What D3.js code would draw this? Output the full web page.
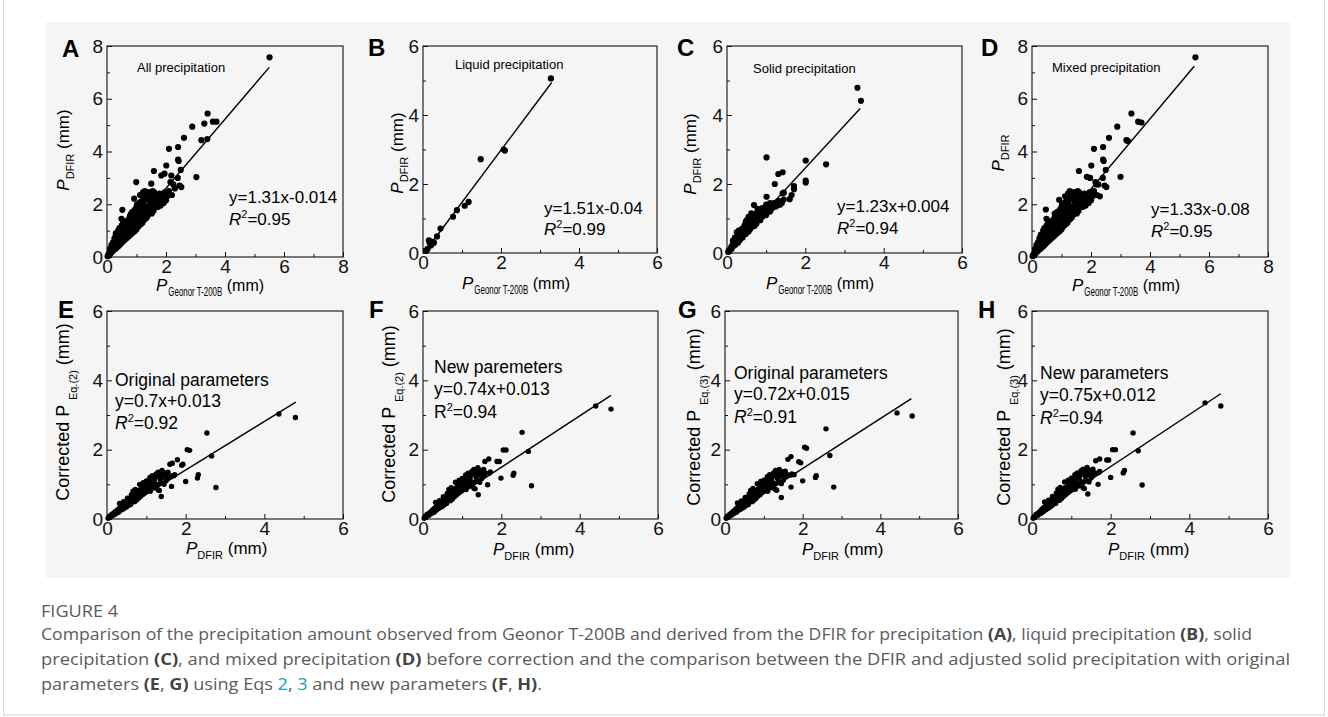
<!DOCTYPE html>
<html><head><meta charset="utf-8">
<script src="https://cdn.jsdelivr.net/npm/d3@7"></script>
<style>body{margin:0;background:#fff;} svg{display:block;} text{white-space:pre;}</style>
</head><body>
<svg id="c" width="1328" height="717"></svg>
<script>
// ---------------- DATA ----------------
const panelLetters = ["A","B","C","D","E","F","G","H"];
const panelNotes = ["All precipitation","Liquid precipitation","Solid precipitation","Mixed precipitation",
  "Original parameters","New paremeters","Original parameters","New parameters"];
const axisMax = [8,6,6,8,6,6,6,6];
const ticks8 = [0,2,4,6,8], minor8 = [1,3,5,7];
const ticks6 = [0,2,4,6], minor6 = [1,3,5];
const fitSlopes = [1.31,1.51,1.23,1.33,0.70,0.74,0.72,0.75];
const fitIntercepts = [-0.014,-0.04,0.004,-0.08,0.013,0.013,0.015,0.012];
const fitXStart = [0.01,0.08,0.0,0.06,0.0,0.0,0.0,0.0];
const fitXEnd = [5.5,3.3,3.4,5.5,4.8,4.8,4.8,4.8];
const eqLeft = ["y=1.31","y=1.51","y=1.23","y=1.33","y=0.7","y=0.74","y=0.72","y=0.75"];
const eqRight = ["-0.014","-0.04","+0.004","-0.08","+0.013","+0.013","+0.015","+0.012"];
const eqItalicX = [false,false,false,false,false,false,true,false];
const r2Values = ["0.95","0.99","0.94","0.95","0.92","0.94","0.91","0.94"];
const r2Italic = [true,true,true,true,true,false,true,true];

const ptsA = [
[0.02,0.03],[0.05,0.05],[0.05,0.1],[0.08,0.12],[0.1,0.1],[0.1,0.2],[0.12,0.15],[0.15,0.18],[0.15,0.3],[0.18,0.22],[0.2,0.25],[0.2,0.4],[0.22,0.3],[0.25,0.28],[0.25,0.5],[0.28,0.35],[0.3,0.32],[0.3,0.6],[0.3,0.9],[0.32,0.45],
[0.35,0.38],[0.35,0.7],[0.38,0.5],[0.4,0.43],[0.4,0.85],[0.42,0.6],[0.45,0.48],[0.45,1.0],[0.48,0.7],[0.5,0.55],[0.5,0.85],[0.5,1.2],[0.52,1.79],[0.49,1.45],[0.55,0.6],[0.55,1.05],[0.58,0.75],[0.6,0.65],[0.6,0.95],[0.6,1.35],
[0.65,0.7],[0.65,1.15],[0.68,0.85],[0.7,0.75],[0.7,1.3],[0.72,1.0],[0.75,0.8],[0.75,1.45],[0.78,1.15],[0.8,0.85],[0.8,1.6],[0.82,1.64],[0.85,0.9],[0.85,1.3],[0.88,1.05],[0.9,0.95],[0.9,1.5],[0.92,1.75],[0.92,2.21],
[0.95,1.0],[0.95,1.2],[0.99,2.84],[1.0,1.05],[1.0,1.4],[1.0,1.9],[1.05,1.65],[1.05,1.15],[1.1,1.2],[1.1,2.05],[1.1,1.5],[1.15,1.25],[1.15,1.8],[1.2,1.3],[1.2,2.3],[1.2,1.6],[1.25,2.0],[1.25,1.4],[1.3,2.45],[1.3,1.75],[1.3,1.45],
[1.35,1.5],[1.35,2.2],[1.4,2.45],[1.4,1.9],[1.4,1.6],[1.45,2.1],[1.45,1.7],[1.5,2.78],[1.5,2.4],[1.5,1.8],[1.55,2.0],[1.55,2.3],[1.6,2.45],[1.6,1.9],[1.65,2.15],[1.65,2.0],[1.7,2.35],[1.7,2.1],[1.59,3.26],
[1.75,2.0],[1.75,2.25],[1.8,2.15],[1.84,3.09],[1.85,2.3],[1.88,2.05],[1.9,2.2],[1.95,3.16],[1.95,2.45],[2.0,2.15],[2.01,3.47],[2.05,2.3],[2.1,4.1],[2.1,2.5],[2.15,2.84],[2.18,3.09],[2.2,2.35],[2.25,2.75],[2.3,2.6],
[2.41,4.17],[2.41,3.69],[2.43,3.64],[2.46,2.71],[2.52,2.65],[2.4,3.0],[2.5,3.3],[2.61,4.52],[2.89,4.94],[3.03,3.03],[3.2,4.43],[3.3,5.06],[3.4,4.47],[3.41,5.44],[3.59,5.13],[3.71,5.13],[5.51,7.57],
[0.1,0.3],[0.15,0.45],[0.2,0.55],[0.25,0.7],[0.28,0.75],[0.35,0.55],[0.38,1.0],[0.4,0.65],[0.42,1.1],[0.45,0.75],[0.55,0.8],[0.55,1.3],[0.62,0.85],[0.62,1.1],[0.68,1.2],[0.7,1.05],[0.72,1.4],[0.78,1.55],[0.82,1.3],[0.85,1.7],
[0.9,1.2],[0.95,1.5],[0.95,1.8],[1.0,1.6],[1.02,2.0],[1.05,1.35],[1.08,1.85],[1.12,1.7],[1.15,2.1],[1.18,1.45],[1.2,1.95],[1.22,2.45],[1.25,1.7],[1.28,2.2],[1.32,1.6],[1.35,1.9],[1.38,2.35],[1.42,1.75],[1.45,2.45],[1.48,2.0],
[1.52,1.65],[1.52,2.2],[1.58,1.75],[1.62,2.1],[1.68,2.25],[1.72,1.9],[1.78,2.4],[1.82,1.95],[1.92,2.05],[1.12,2.35],[1.28,2.5],[1.55,2.5]
];
const ptsB = [[0.09,0.08],[0.12,0.12],[0.15,0.37],[0.17,0.3],[0.2,0.22],[0.22,0.33],[0.24,0.27],[0.28,0.3],[0.36,0.48],[0.45,0.71],
[0.77,1.05],[0.87,1.24],[1.07,1.37],[1.17,1.48],[1.48,2.72],[2.07,3.0],[2.1,2.97],[3.28,5.06]];
const ptsC = [
[0.03,0.03],[0.05,0.08],[0.08,0.1],[0.1,0.15],[0.12,0.12],[0.15,0.2],[0.15,0.35],[0.18,0.22],[0.2,0.3],[0.2,0.45],[0.22,0.25],[0.25,0.35],[0.25,0.6],[0.28,0.3],[0.3,0.45],[0.3,0.65],[0.33,0.38],[0.35,0.55],[0.38,0.7],[0.4,0.45],
[0.42,0.6],[0.45,0.8],[0.48,0.55],[0.5,0.7],[0.5,0.95],[0.55,0.62],[0.55,0.85],[0.6,0.7],[0.6,1.0],[0.65,0.8],[0.65,1.1],[0.69,1.39],[0.7,0.78],[0.7,0.95],[0.75,1.15],[0.75,0.85],[0.8,1.0],[0.8,1.2],[0.85,0.95],[0.85,1.1],
[0.9,1.3],[0.9,1.05],[0.95,1.15],[1.0,1.1],[1.0,1.4],[1.01,1.63],[1.05,1.25],[1.1,1.45],[1.1,1.3],[1.15,1.4],[1.2,1.45],[1.25,1.35],[1.3,1.5],[1.35,1.4],[1.4,1.45],[1.42,1.73],[1.45,1.75],[1.6,1.56],[1.65,1.68],[1.71,1.85],
[1.71,1.94],[1.22,2.0],[1.31,2.29],[1.42,2.34],[1.01,2.77],[2.01,2.68],[2.01,2.04],[2.01,2.1],[2.53,2.57],[3.33,4.79],[3.42,4.41],
[0.12,0.2],[0.18,0.3],[0.25,0.45],[0.3,0.55],[0.35,0.45],[0.4,0.6],[0.45,0.65],[0.5,0.82],[0.55,0.75],[0.6,0.85],[0.65,0.95],[0.7,1.05],[0.75,1.0],[0.8,1.1],[0.85,1.2],[0.9,1.15],[0.95,1.3],[1.0,1.25],[1.05,1.4],[1.1,1.2],
[1.15,1.3],[1.2,1.35],[1.25,1.45],[1.3,1.4],[1.35,1.5],[1.45,1.55],[0.55,1.05],[0.48,0.9],[0.62,1.15],[0.78,1.28]
];
const ptsD = [
[0.02,0.03],[0.05,0.05],[0.05,0.1],[0.08,0.12],[0.1,0.1],[0.1,0.2],[0.12,0.15],[0.15,0.18],[0.15,0.3],[0.18,0.22],[0.2,0.25],[0.2,0.4],[0.22,0.3],[0.25,0.28],[0.25,0.5],[0.28,0.35],[0.3,0.32],[0.3,0.6],[0.3,0.85],[0.32,0.45],
[0.35,0.38],[0.35,0.7],[0.38,0.5],[0.4,0.43],[0.4,0.85],[0.42,0.6],[0.45,0.48],[0.45,1.0],[0.48,0.7],[0.5,0.55],[0.5,0.85],[0.5,1.2],[0.47,1.8],[0.49,1.45],[0.55,0.6],[0.55,1.05],[0.58,0.75],[0.6,0.65],[0.6,0.95],[0.6,1.35],
[0.65,0.7],[0.65,1.15],[0.68,0.85],[0.7,0.75],[0.7,1.3],[0.72,1.0],[0.75,0.8],[0.75,1.45],[0.77,1.65],[0.78,1.15],[0.8,0.85],[0.8,1.6],[0.85,0.9],[0.85,1.3],[0.88,1.05],[0.9,0.95],[0.9,1.5],[0.92,1.75],[0.92,2.17],
[0.95,1.0],[0.95,1.2],[1.0,1.05],[1.0,1.4],[1.0,1.9],[1.05,1.65],[1.05,1.15],[1.1,1.2],[1.1,2.05],[1.1,1.5],[1.15,1.25],[1.15,1.8],[1.2,1.3],[1.2,2.3],[1.2,1.6],[1.25,2.0],[1.25,1.4],[1.3,2.45],[1.3,1.75],[1.3,1.45],
[1.35,1.5],[1.35,2.2],[1.4,2.45],[1.4,1.9],[1.4,1.6],[1.45,2.1],[1.45,1.7],[1.5,2.4],[1.5,1.8],[1.55,2.0],[1.55,2.3],[1.6,2.45],[1.6,1.9],[1.65,2.15],[1.65,2.0],[1.7,2.35],[1.7,2.1],[1.59,3.26],
[1.75,2.0],[1.75,2.25],[1.8,2.15],[1.86,3.04],[1.85,2.3],[1.88,2.05],[1.9,2.2],[1.97,3.0],[1.95,2.45],[2.0,2.15],[2.01,3.47],[2.05,2.3],[2.1,4.1],[2.1,2.5],[2.15,2.84],[2.18,2.75],[2.2,2.35],[2.25,2.75],[2.3,2.3],
[2.41,4.17],[2.41,3.69],[2.43,3.64],[2.46,2.71],[2.52,2.65],[2.4,3.0],[2.5,3.3],[2.61,4.52],[2.89,4.94],[3.0,3.04],[3.2,4.43],[3.25,4.4],[3.37,5.44],[3.6,5.13],[3.71,5.1],[5.54,7.57],
[0.1,0.3],[0.15,0.45],[0.2,0.55],[0.25,0.7],[0.28,0.75],[0.35,0.55],[0.38,1.0],[0.4,0.65],[0.42,1.1],[0.45,0.75],[0.55,0.8],[0.55,1.3],[0.62,0.85],[0.62,1.1],[0.68,1.2],[0.7,1.05],[0.72,1.4],[0.78,1.5],[0.82,1.3],[0.85,1.7],
[0.9,1.2],[0.95,1.5],[0.95,1.8],[1.0,1.6],[1.02,2.0],[1.05,1.35],[1.08,1.85],[1.12,1.7],[1.15,2.1],[1.18,1.45],[1.2,1.95],[1.22,2.4],[1.25,1.7],[1.28,2.2],[1.32,1.6],[1.35,1.9],[1.38,2.35],[1.42,1.75],[1.45,2.45],[1.48,2.0],
[1.52,1.65],[1.52,2.2],[1.58,1.75],[1.62,2.1],[1.68,2.25],[1.72,1.9],[1.78,2.4],[1.82,1.95],[1.92,2.05],[1.12,2.3],[1.28,2.5],[1.55,2.5]
];
const ptsE = [
[0.03,0.02],[0.05,0.05],[0.08,0.06],[0.1,0.08],[0.1,0.12],[0.15,0.1],[0.15,0.15],[0.2,0.14],[0.2,0.2],[0.25,0.17],[0.25,0.25],[0.3,0.2],[0.3,0.3],[0.32,0.45],[0.35,0.25],[0.35,0.35],[0.4,0.28],[0.4,0.4],[0.42,0.5],[0.45,0.32],
[0.45,0.45],[0.5,0.35],[0.5,0.5],[0.52,0.6],[0.55,0.4],[0.55,0.55],[0.6,0.42],[0.6,0.6],[0.62,0.7],[0.65,0.5],[0.66,0.8],[0.7,0.5],[0.7,0.62],[0.72,0.85],[0.75,0.55],[0.75,0.7],[0.8,0.6],[0.8,0.75],[0.83,1.0],[0.85,0.65],
[0.88,0.85],[0.9,0.7],[0.92,1.05],[0.95,0.75],[0.95,0.9],[1.0,0.8],[1.0,1.1],[1.05,0.95],[1.09,1.2],[1.1,0.8],[1.12,1.0],[1.15,1.25],[1.2,0.9],[1.2,1.1],[1.25,1.3],[1.3,0.84],[1.3,1.0],[1.3,1.35],[1.33,0.82],[1.35,1.15],
[1.38,0.65],[1.4,1.4],[1.42,1.23],[1.45,1.0],[1.47,1.33],[1.5,1.1],[1.55,1.2],[1.6,1.58],[1.64,0.94],[1.66,1.61],[1.7,1.25],[1.72,1.28],[1.79,1.71],[1.9,1.55],[1.93,1.58],[2.0,1.08],[2.04,2.0],[2.1,1.98],[2.3,1.18],[2.32,1.28],
[2.54,2.48],[2.66,1.82],[2.77,0.91],[4.37,3.03],[4.79,2.93],
[0.2,0.17],[0.25,0.21],[0.3,0.25],[0.35,0.3],[0.4,0.34],[0.45,0.38],[0.5,0.42],[0.55,0.48],[0.6,0.52],[0.65,0.6],[0.7,0.7],[0.75,0.62],[0.78,0.8],[0.8,0.68],[0.85,0.85],[0.9,0.8],[0.92,0.95],[0.98,0.85],[1.0,1.0],[1.05,1.1],
[1.08,0.9],[1.1,1.05],[1.15,0.95],[1.18,1.15],[1.22,1.2],[1.25,1.0],[1.28,1.25],[1.35,1.3],[1.38,1.05],[1.4,1.2],[1.45,1.25],[1.5,1.3],[1.55,1.35],[1.6,1.25]
];
const ptsF = [
[0.03,0.02],[0.05,0.05],[0.08,0.07],[0.1,0.09],[0.1,0.13],[0.15,0.11],[0.15,0.16],[0.2,0.15],[0.2,0.21],[0.25,0.18],[0.25,0.27],[0.3,0.21],[0.3,0.32],[0.32,0.48],[0.35,0.27],[0.35,0.37],[0.4,0.3],[0.4,0.42],[0.42,0.53],[0.45,0.34],
[0.45,0.48],[0.5,0.37],[0.5,0.53],[0.52,0.64],[0.55,0.42],[0.55,0.58],[0.6,0.45],[0.6,0.64],[0.62,0.74],[0.65,0.53],[0.66,0.85],[0.7,0.53],[0.7,0.66],[0.72,0.9],[0.75,0.58],[0.75,0.74],[0.8,0.64],[0.8,0.8],[0.83,1.06],[0.85,0.69],
[0.88,0.9],[0.9,0.74],[0.92,1.11],[0.95,0.8],[0.95,0.95],[1.0,0.85],[1.0,1.17],[1.05,1.0],[1.09,1.27],[1.1,0.85],[1.12,1.06],[1.15,1.32],[1.2,0.95],[1.2,1.17],[1.25,1.38],[1.3,0.89],[1.3,1.06],[1.3,1.43],[1.33,0.87],[1.35,1.22],
[1.41,0.7],[1.4,1.48],[1.42,1.3],[1.45,1.06],[1.47,1.4],[1.5,1.17],[1.55,1.27],[1.58,1.66],[1.65,0.99],[1.68,1.73],[1.7,1.33],[1.72,1.36],[1.89,1.66],[1.95,1.66],[1.99,1.18],[2.05,1.99],[2.12,1.99],[2.3,1.26],[2.32,1.32],
[2.53,2.5],[2.69,1.95],[2.77,0.96],[4.41,3.26],[4.8,3.17],
[0.2,0.18],[0.25,0.22],[0.3,0.27],[0.35,0.32],[0.4,0.36],[0.45,0.4],[0.5,0.45],[0.55,0.51],[0.6,0.55],[0.65,0.64],[0.7,0.74],[0.75,0.66],[0.78,0.85],[0.8,0.72],[0.85,0.9],[0.9,0.85],[0.92,1.0],[0.98,0.9],[1.0,1.06],[1.05,1.17],
[1.08,0.95],[1.1,1.11],[1.15,1.0],[1.18,1.22],[1.22,1.27],[1.25,1.06],[1.28,1.32],[1.35,1.38],[1.38,1.11],[1.4,1.27],[1.45,1.32],[1.5,1.38],[1.55,1.43],[1.6,1.32]
];
const ptsG = [
[0.03,0.02],[0.05,0.05],[0.08,0.06],[0.1,0.08],[0.1,0.12],[0.15,0.1],[0.15,0.16],[0.2,0.14],[0.2,0.21],[0.25,0.17],[0.25,0.26],[0.3,0.2],[0.3,0.31],[0.32,0.46],[0.35,0.25],[0.35,0.36],[0.4,0.28],[0.4,0.41],[0.42,0.52],[0.45,0.32],
[0.45,0.46],[0.5,0.35],[0.5,0.52],[0.52,0.62],[0.55,0.4],[0.55,0.57],[0.6,0.42],[0.6,0.62],[0.62,0.72],[0.65,0.5],[0.66,0.82],[0.7,0.5],[0.7,0.64],[0.72,0.88],[0.75,0.55],[0.75,0.72],[0.8,0.6],[0.8,0.77],[0.83,1.02],[0.85,0.66],
[0.88,0.87],[0.9,0.7],[0.92,1.08],[0.95,0.76],[0.95,0.92],[1.0,0.8],[1.0,1.12],[1.05,0.97],[1.09,1.22],[1.1,0.8],[1.12,1.02],[1.15,1.28],[1.2,0.9],[1.2,1.12],[1.25,1.33],[1.3,0.85],[1.3,1.02],[1.3,1.4],[1.33,0.83],[1.35,1.17],
[1.45,0.62],[1.4,1.43],[1.42,1.26],[1.45,1.02],[1.47,1.36],[1.5,1.12],[1.55,1.22],[1.62,1.72],[1.7,0.92],[1.7,1.8],[1.7,1.27],[1.72,1.3],[1.78,1.28],[1.9,1.65],[1.95,1.62],[2.0,1.1],[2.05,2.07],[2.1,2.04],[2.33,1.2],[2.35,1.25],
[2.6,2.6],[2.7,1.83],[2.8,0.92],[4.43,3.06],[4.82,2.97],
[0.2,0.17],[0.25,0.21],[0.3,0.26],[0.35,0.31],[0.4,0.35],[0.45,0.39],[0.5,0.43],[0.55,0.49],[0.6,0.53],[0.65,0.62],[0.7,0.72],[0.75,0.64],[0.78,0.82],[0.8,0.7],[0.85,0.87],[0.9,0.82],[0.92,0.97],[0.98,0.87],[1.0,1.02],[1.05,1.12],
[1.08,0.92],[1.1,1.07],[1.15,0.97],[1.18,1.17],[1.22,1.22],[1.25,1.02],[1.28,1.27],[1.35,1.33],[1.38,1.07],[1.4,1.22],[1.45,1.27],[1.5,1.33],[1.55,1.38],[1.6,1.28]
];
const ptsH = [
[0.03,0.02],[0.05,0.05],[0.08,0.07],[0.1,0.09],[0.1,0.13],[0.15,0.11],[0.15,0.17],[0.2,0.15],[0.2,0.22],[0.25,0.18],[0.25,0.28],[0.3,0.22],[0.3,0.33],[0.32,0.49],[0.35,0.27],[0.35,0.38],[0.4,0.3],[0.4,0.43],[0.42,0.54],[0.45,0.34],
[0.45,0.49],[0.5,0.38],[0.5,0.54],[0.52,0.65],[0.55,0.43],[0.55,0.59],[0.6,0.45],[0.6,0.65],[0.62,0.75],[0.65,0.54],[0.66,0.86],[0.7,0.54],[0.7,0.67],[0.72,0.91],[0.75,0.59],[0.75,0.75],[0.8,0.65],[0.8,0.81],[0.83,1.07],[0.85,0.7],
[0.88,0.91],[0.9,0.75],[0.92,1.12],[0.95,0.81],[0.95,0.96],[1.0,0.86],[1.0,1.18],[1.05,1.01],[1.09,1.28],[1.1,0.86],[1.12,1.07],[1.15,1.33],[1.2,0.96],[1.2,1.18],[1.25,1.39],[1.3,0.9],[1.3,1.07],[1.3,1.44],[1.33,0.88],[1.35,1.23],
[1.42,0.72],[1.4,1.49],[1.42,1.31],[1.45,1.07],[1.47,1.41],[1.5,1.18],[1.55,1.28],[1.62,1.68],[1.68,1.0],[1.72,1.73],[1.7,1.34],[1.72,1.37],[1.9,1.7],[1.95,1.7],[2.0,1.2],[2.05,2.0],[2.12,2.0],[2.32,1.33],[2.35,1.4],
[2.57,2.48],[2.7,1.97],[2.8,0.98],[4.4,3.35],[4.8,3.26],
[0.2,0.18],[0.25,0.22],[0.3,0.27],[0.35,0.32],[0.4,0.37],[0.45,0.41],[0.5,0.46],[0.55,0.52],[0.6,0.56],[0.65,0.65],[0.7,0.75],[0.75,0.67],[0.78,0.86],[0.8,0.73],[0.85,0.91],[0.9,0.86],[0.92,1.01],[0.98,0.91],[1.0,1.07],[1.05,1.18],
[1.08,0.96],[1.1,1.12],[1.15,1.01],[1.18,1.23],[1.22,1.28],[1.25,1.07],[1.28,1.33],[1.35,1.39],[1.38,1.12],[1.4,1.28],[1.45,1.33],[1.5,1.39],[1.55,1.44],[1.6,1.33]
];
const pointSets = [ptsA,ptsB,ptsC,ptsD,ptsE,ptsF,ptsG,ptsH];

// ---------------- LAYOUT ----------------
const FONT = "'Liberation Sans', Arial, Helvetica, sans-serif";
const frames = [[107,343,46,257],[423,657,46,253],[727,962,46,253],[1032,1268,46,257],
                [107,343,311,519],[423,658,311,519],[725,958,311,519],[1032,1268,311,519]];
const letterPos = [[62,57],[368,56],[677,56],[981,56],[58,318],[369,318],[678,318],[978,318]];
const notePos = [[137,72],[455,69],[753,73],[1052,72],[115,386],[434,373],[734,379],[1040,379]];
const eqPos = [[229,203],[544,214],[837,212],[1151,215],[115,407],[434,395],[734,400],[1040,401]];
const r2Pos = [[229,225],[544,235],[837,234],[1151,237],[115,429],[434,418],[734,423],[1040,424]];
const yTitlePos = [[69,150],[403,153],[696,154],[1004,153],[69,412],[395,414],[700,417],[1010,417]];
const xTitlePos = [[156,291],[462,289],[766,289],[1072,291],[186,554],[493,555],[802,555],[1108,555]];

const svg = d3.select("#c").attr("font-family", FONT);
svg.append("rect").attr("width",1328).attr("height",717).attr("fill","#fff");
svg.append("rect").attr("x",46).attr("y",22).attr("width",1244).attr("height",556).attr("fill","#f5f5f5");
svg.append("rect").attr("x",3.5).attr("y",-2).attr("width",1321).attr("height",717).attr("fill","none").attr("stroke","#d4d4d4");

function rich(parent, pieces, x, y, anchor, rotate) {
  const g = parent.append("g").attr("transform", `translate(${x},${y})` + (rotate ? ` rotate(${rotate})` : ""));
  let cx = 0;
  const items = [];
  pieces.forEach(p => {
    const holder = g.append("g");
    const t = holder.append("text").attr("x", 0).attr("y", p.dy || 0)
      .attr("font-size", p.size).attr("fill", "#000")
      .attr("font-style", p.italic ? "italic" : "normal").text(p.t);
    const nat = t.node().getComputedTextLength();
    const sx = p.len ? p.len / nat : 1;
    const w = p.len || nat;
    items.push({holder, pos: cx, sx});
    cx += w + (p.gap || 0);
  });
  const shift = anchor === "middle" ? -cx / 2 : 0;
  items.forEach(it => it.holder.attr("transform", `translate(${it.pos + shift},0)` + (it.sx !== 1 ? ` scale(${it.sx},1)` : "")));
  return g;
}

pointSets.forEach((pts, i) => {
  const [l, r, t, b] = frames[i];
  const max = axisMax[i];
  const row2 = i >= 4;
  const x = d3.scaleLinear().domain([0, max]).range([l, r]);
  const y = d3.scaleLinear().domain([0, max]).range([b, t]);
  const major = max === 8 ? ticks8 : ticks6;
  const minor = max === 8 ? minor8 : minor6;
  const g = svg.append("g");

  const xa = g.append("g").attr("transform", `translate(0,${b})`)
    .call(d3.axisBottom(x).tickValues(major).tickFormat(d3.format("d")).tickSizeInner(-5).tickSizeOuter(0).tickPadding(2));
  const xm = g.append("g").attr("transform", `translate(0,${b})`)
    .call(d3.axisBottom(x).tickValues(minor).tickFormat("").tickSizeInner(-3).tickSizeOuter(0));
  const ya = g.append("g").attr("transform", `translate(${l},0)`)
    .call(d3.axisLeft(y).tickValues(major).tickFormat(d3.format("d")).tickSizeInner(-5).tickSizeOuter(0).tickPadding(4));
  const ym = g.append("g").attr("transform", `translate(${l},0)`)
    .call(d3.axisLeft(y).tickValues(minor).tickFormat("").tickSizeInner(-3).tickSizeOuter(0));
  [xa, xm, ya, ym].forEach(a => {
    a.select(".domain").remove();
    a.selectAll("line").attr("stroke", "#111").attr("stroke-width", 1);
    a.selectAll("text").attr("font-family", FONT).attr("font-size", 19).attr("fill", "#111");
  });
  g.append("rect").attr("x", l).attr("y", t).attr("width", r - l).attr("height", b - t)
    .attr("fill", "none").attr("stroke", "#111").attr("stroke-width", 1.1);

  g.append("g").selectAll("circle").data(pts).join("circle")
    .attr("cx", d => x(d[0])).attr("cy", d => y(d[1]))
    .attr("r", row2 ? 2.7 : 3.1).attr("fill", "#000");

  const fx = [fitXStart[i], fitXEnd[i]];
  g.append("path").datum(fx.map(v => [v, fitSlopes[i] * v + fitIntercepts[i]]))
    .attr("d", d3.line().x(d => x(d[0])).y(d => y(d[1])))
    .attr("stroke", "#000").attr("stroke-width", 1.4).attr("fill", "none");

  g.append("text").attr("x", letterPos[i][0]).attr("y", letterPos[i][1])
    .attr("font-size", 24).attr("font-weight", "bold").attr("fill", "#000").text(panelLetters[i]);

  const fs = row2 ? 17.5 : 17;
  g.append("text").attr("x", notePos[i][0]).attr("y", notePos[i][1])
    .attr("font-size", row2 ? 17.5 : 13).attr("fill", "#000").text(panelNotes[i]);
  rich(g, [{t: eqLeft[i], size: fs}, {t: "x", size: fs, italic: eqItalicX[i]}, {t: eqRight[i], size: fs}], eqPos[i][0], eqPos[i][1]);
  rich(g, [{t: "R", size: fs, italic: r2Italic[i]}, {t: "2", size: 11, dy: -7}, {t: "=" + r2Values[i], size: fs}], r2Pos[i][0], r2Pos[i][1]);

  let yPieces, xPieces;
  if (!row2) {
    yPieces = [{t: "P", size: 17, italic: true}, {t: "DFIR", size: 11, dy: 5}];
    if (i !== 3) yPieces.push({t: " (mm)", size: 17});
    xPieces = [{t: "P", size: 17, italic: true, gap: 1}, {t: "Geonor T-200B", size: 12, dy: 5, len: 54}, {t: " (mm)", size: 16}];
  } else {
    const eq = (i === 4 || i === 5) ? "Eq.(2)" : "Eq.(3)";
    yPieces = [{t: "Corrected P ", size: 18}, {t: eq, size: 11, dy: 8}, {t: " (mm)", size: 18}];
    xPieces = [{t: "P", size: 17, italic: true}, {t: "DFIR", size: 11, dy: 5}, {t: " (mm)", size: 17}];
  }
  rich(g, yPieces, yTitlePos[i][0], yTitlePos[i][1], "middle", -90);
  rich(g, xPieces, xTitlePos[i][0], xTitlePos[i][1]);
});

// ---------------- CAPTION ----------------
const capColor = "#5b5b5b", linkColor = "#1aa0b4";
svg.append("text").attr("x", 41).attr("y", 617).attr("font-family", "'Open Sans', sans-serif")
  .attr("font-size", 16).attr("fill", capColor).attr("textLength", 77).attr("lengthAdjust", "spacingAndGlyphs").text("FIGURE 4");
const capLines = [
  {y: 640, len: 1211, parts: [["Comparison of the precipitation amount observed from Geonor T-200B and derived from the DFIR for precipitation "], ["(A)", "b"], [", liquid precipitation "], ["(B)", "b"], [", solid"]]},
  {y: 665, len: 1249, parts: [["precipitation "], ["(C)", "b"], [", and mixed precipitation "], ["(D)", "b"], [" before correction and the comparison between the DFIR and adjusted solid precipitation with original"]]},
  {y: 690, len: 501, parts: [["parameters "], ["(E", "b"], [", "], ["G)", "b"], [" using Eqs "], ["2", "l"], [", "], ["3", "l"], [" and new parameters "], ["(F", "b"], [", "], ["H)", "b"], ["."]]}
];
capLines.forEach(line => {
  const t = svg.append("text").attr("x", 41).attr("y", line.y).attr("font-family", "'Open Sans', sans-serif")
    .attr("font-size", 16).attr("fill", capColor).attr("textLength", line.len).attr("lengthAdjust", "spacingAndGlyphs");
  line.parts.forEach(p => {
    const s = t.append("tspan").text(p[0]);
    if (p[1] === "b") s.attr("font-weight", "bold").attr("fill", "#444");
    if (p[1] === "l") s.attr("fill", linkColor);
  });
});
</script>
</body></html>
